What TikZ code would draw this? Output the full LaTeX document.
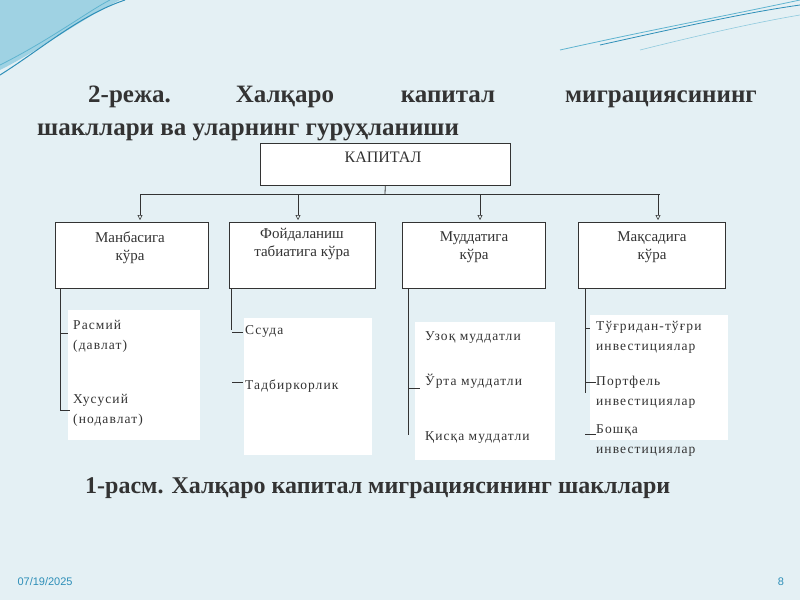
\documentclass[tikz,border=0pt]{standalone}
\usepackage{fontspec}
\setmainfont{Liberation Serif}
\newfontfamily\widefont[LetterSpace=8]{Liberation Serif}
\newfontfamily\footfont{Liberation Sans}
\definecolor{bg}{HTML}{E4F0F4}
\definecolor{teal1}{HTML}{5FB4D0}
\definecolor{teal2}{HTML}{2E8FB8}
\definecolor{ink}{HTML}{333333}
\tikzset{
  box/.style={draw=ink,line width=0.6pt,fill=white},
  lbl/.style={font=\widefont\fontsize{13.5}{20}\selectfont,text=ink,align=left,anchor=west,inner sep=1pt},
  hd/.style={font=\fontsize{15}{18}\selectfont,text=ink,align=center,anchor=north},
  ttl/.style={font=\bfseries\fontsize{25}{27}\selectfont,text=ink,anchor=base west,inner sep=0},
  ln/.style={draw=ink,line width=0.8pt},
  arr/.style={draw=ink,line width=0.5pt,-{Triangle[open,length=5pt,width=5pt]}}
}
\usetikzlibrary{arrows.meta}
\begin{document}
\begin{tikzpicture}[x=1pt,y=-1pt]
\fill[bg] (0,0) rectangle (800,600);
\useasboundingbox (0,0) rectangle (800,600);
% decorations
\fill[teal1!60] (0,0) -- (120,0) .. controls (80,20) and (40,50) .. (0,70) -- cycle;
\draw[teal2,line width=1pt] (0,75) .. controls (40,50) and (80,15) .. (125,0);
\draw[teal1,line width=0.8pt] (0,65) .. controls (50,40) and (90,10) .. (110,0);
\draw[teal1,line width=0.8pt] (560,50) .. controls (650,30) and (730,15) .. (800,0);
\draw[teal2,line width=0.8pt] (600,45) .. controls (690,25) and (750,12) .. (800,5);
\draw[teal1!70,line width=0.6pt] (640,50) .. controls (720,30) and (770,20) .. (800,15);
% title
\node[ttl] (t1) at (88,102) {2-режа.};
\node[ttl,anchor=base] (t2) at (285,102) {Халқаро};
\node[ttl,anchor=base] (t3) at (448,102) {капитал};
\node[ttl,anchor=base east] (t4) at (757,102) {миграциясининг};
\node[ttl] (t5) at (37,135) {шакллари ва уларнинг гуруҳланиши};
% capital
\node[box,minimum width=250pt,minimum height=42pt,anchor=north west] (cap) at (260,143) {};
\node[hd,font=\fontsize{16}{18}\selectfont] (capt) at (383,148) {КАПИТАЛ};
\coordinate (hub) at (385,194);
\draw[ln] (cap.south) -- (hub);
\draw[ln] (140,194) -- (660,194);
% boxes
\node[box,minimum width=153pt,minimum height=66pt,anchor=north west] (b1) at (55,222) {};
\node[box,minimum width=146pt,minimum height=66pt,anchor=north west] (b2) at (229,222) {};
\node[box,minimum width=143pt,minimum height=66pt,anchor=north west] (b3) at (402,222) {};
\node[box,minimum width=147pt,minimum height=66pt,anchor=north west] (b4) at (578,222) {};
\coordinate (a1) at (140,194); \coordinate (a2) at (298,194);
\coordinate (a3) at (480,194); \coordinate (a4) at (658,194);
\draw[arr] (a1) -- (140,220);
\draw[arr] (a2) -- (298,220);
\draw[arr] (a3) -- (480,220);
\draw[arr] (a4) -- (658,220);
\node[hd] (h1) at (130,228) {Манбасига\\кўра};
\node[hd] (h2) at (302,225) {Фойдаланиш\\табиатига кўра};
\node[hd] (h3) at (474,228) {Муддатига\\кўра};
\node[hd] (h4) at (652,228) {Мақсадига\\кўра};
% white panels
\fill[white] (68,310) rectangle (200,440);
\fill[white] (244,318) rectangle (372,455);
\fill[white] (415,322) rectangle (555,460);
\fill[white] (590,315) rectangle (728,440);
% list 1
\coordinate (v1) at (60,410);
\draw[ln] (60,288) -- (v1) -- (70,410);
\draw[ln] (60,333) -- (68,333);
\node[lbl] (l11) at (72,336) {Расмий\\(давлат)};
\node[lbl] (l12) at (72,410) {Хусусий\\(нодавлат)};
% list 2
\draw[draw=ink,line width=0.4pt] (231,288) -- (231,330);
\draw[ln] (232,332) -- (243,332);
\draw[ln] (232,382) -- (243,382);
\node[lbl] (l21) at (244,331) {Ссуда};
\node[lbl] (l22) at (244,386) {Тадбиркорлик};
% list 3
\draw[ln] (408,288) -- (408,435);
\draw[ln] (408,388) -- (420,388);
\node[lbl] (l31) at (424,338) {Узоқ муддатли};
\node[lbl] (l32) at (424,381) {Ўрта муддатли};
\node[lbl] (l33) at (424,438) {Қисқа муддатли};
% list 4
\draw[draw=ink,line width=0.4pt] (585,288) -- (585,393);
\draw[ln] (585,382) -- (596,382);
\draw[ln] (585,434) -- (596,434);
\draw[ln] (585,328) -- (590,328);
\node[lbl] (l41) at (595,337) {Тўғридан-тўғри\\инвестициялар};
\node[lbl] (l42) at (595,392) {Портфель\\инвестициялар};
\node[lbl] (l43) at (595,441) {Бошқа\\инвестициялар};
% caption
\node[font=\bfseries\fontsize{24}{26}\selectfont,text=ink,anchor=base west,inner sep=0] (cap2) at (85,493) {1-расм. Халқаро капитал миграциясининг шакллари};
% footer
\node[font=\footfont\fontsize{11}{13}\selectfont,text=teal2,anchor=west] (date) at (14,582) {07/19/2025};
\node[font=\footfont\fontsize{11}{13}\selectfont,text=teal2] (pg) at (781,582) {8};
\end{tikzpicture}
\end{document}
